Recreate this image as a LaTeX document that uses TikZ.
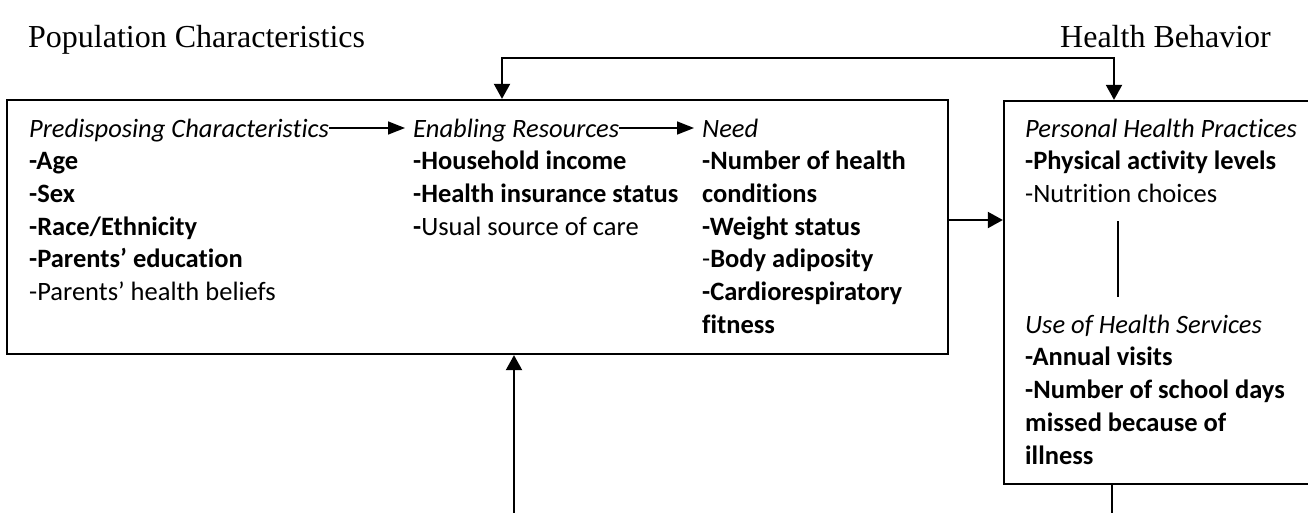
\documentclass[tikz,border=0pt]{standalone}
\usepackage{fontspec}
\setmainfont{Liberation Serif}
\newfontfamily\calfont[Ligatures=NoCommon]{Carlito}
\usetikzlibrary{arrows.meta}
\begin{document}
\begin{tikzpicture}[x=1pt,y=-1pt,
  txt/.style={anchor=base west, inner sep=0pt, font=\calfont\fontsize{26.5}{32}\selectfont},
  heading/.style={anchor=base west, inner sep=0pt, font=\fontsize{32}{38}\selectfont},
  frame/.style={draw, line width=2.3pt, rectangle, inner sep=0pt},
  conn/.style={line width=2pt},
  tip/.style={-{Triangle[length=15pt,width=16pt]}},
  inarrow/.style={line width=1.5pt, -{Triangle[length=17pt,width=13pt]}}]
\useasboundingbox (0,0) rectangle (1308,512);
\clip (0,0) rectangle (1308,512);

% section headings
\node[heading] (popchar) at (28,47) {Population Characteristics};
\node[heading] (healthbeh) at (1060,47) {Health Behavior};

% the two frames
\node[frame, minimum width=941pt, minimum height=254pt] (popbox) at (477.5,227) {};
\node[frame, minimum width=320pt, minimum height=383pt] (behbox) at (1164,292.5) {};

% predisposing characteristics
\node[txt] (pre) at (29,137) {\textit{Predisposing Characteristics}};
\node[txt] (age) at (29,169.7) {\textbf{-Age}};
\node[txt] (sex) at (29,202.4) {\textbf{-Sex}};
\node[txt] (race) at (29,235.1) {\textbf{-Race/Ethnicity}};
\node[txt] (pedu) at (29,267.8) {\textbf{-Parents’ education}};
\node[txt] (pbel) at (29,300.5) {-Parents’ health beliefs};

% enabling resources
\node[txt] (enab) at (413,137) {\textit{Enabling Resources}};
\node[txt] (inc) at (413,169.7) {\textbf{-Household income}};
\node[txt] (ins) at (413,202.4) {\textbf{-Health insurance status}};
\node[txt] (usual) at (413,235.1) {\textbf{-}Usual source of care};

% need
\node[txt] (need) at (702,137) {\textit{Need}};
\node[txt] (num) at (702,169.7) {\textbf{-Number of health}};
\node[txt] (cond) at (702,202.4) {\textbf{conditions}};
\node[txt] (weight) at (702,235.1) {\textbf{-Weight status}};
\node[txt] (adip) at (702,267.8) {-\textbf{Body adiposity}};
\node[txt] (cardio) at (702,300.5) {\textbf{-Cardiorespiratory}};
\node[txt] (fit) at (702,333.2) {\textbf{fitness}};

% personal health practices
\node[txt] (php) at (1025,137) {\textit{Personal Health Practices}};
\node[txt] (phys) at (1025,169.7) {\textbf{-Physical activity levels}};
\node[txt] (nutr) at (1025,202.4) {-Nutrition choices};

% use of health services
\node[txt] (uhs) at (1025,333.2) {\textit{Use of Health Services}};
\node[txt] (visits) at (1025,365.9) {\textbf{-Annual visits}};
\node[txt] (days) at (1025,398.6) {\textbf{-Number of school days}};
\node[txt] (missed) at (1025,431.3) {\textbf{missed because of}};
\node[txt] (ill) at (1025,464) {\textbf{illness}};

% arrows between the characteristic groups
\draw[inarrow] (pre.east |- 0,128) -- ([xshift=-8pt]enab.west |- 0,128);
\draw[inarrow] (enab.east |- 0,128) -- ([xshift=-8pt]need.west |- 0,128);

% feedback loop over the top
\coordinate (loopL) at (502,58);
\coordinate (loopR) at (1114,58);
\draw[conn, {Triangle[length=15pt,width=16pt]}-{Triangle[length=15pt,width=16pt]}]
  (popbox.north -| loopL) -- (loopL) -- (loopR) -- (behbox.north -| loopR);

% characteristics lead to behaviour
\draw[conn, tip] (popbox.east |- 0,220) -- (behbox.west |- 0,220);

% link between practices and services
\coordinate (linkT) at (1118,221);
\coordinate (linkB) at (1118,297);
\draw[line width=1.5pt] (linkT) -- (linkB);

% connectors leaving the bottom edge
\coordinate (inL) at (514,515);
\draw[conn, tip] (inL) -- (popbox.south -| inL);
\coordinate (outR) at (1112,515);
\draw[conn] (behbox.south -| outR) -- (outR);
\end{tikzpicture}
\end{document}
